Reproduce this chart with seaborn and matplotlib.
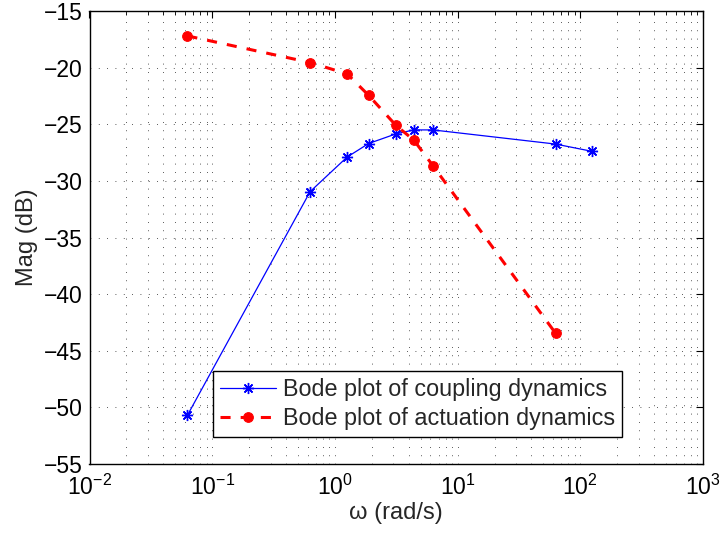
import numpy as np
import pandas as pd
import matplotlib
matplotlib.use("Agg")
import matplotlib.pyplot as plt
from matplotlib.ticker import LogLocator, MultipleLocator, NullFormatter
import seaborn as sns

# Frequency points (rad/s) and magnitudes (dB)
omega_coupling = [0.0628, 0.628, 1.257, 1.885, 3.142, 4.398, 6.283, 62.83, 125.7]
mag_coupling = [-50.7, -30.95, -27.9, -26.7, -25.85, -25.5, -25.5, -26.75, -27.4]

omega_actuation = [0.0628, 0.628, 1.257, 1.885, 3.142, 4.398, 6.283, 62.83]
mag_actuation = [-17.2, -19.55, -20.55, -22.45, -25.1, -26.4, -28.65, -43.45]

label_coupling = "Bode plot of coupling dynamics"
label_actuation = "Bode plot of actuation dynamics"

df_c = pd.DataFrame({"omega": omega_coupling, "mag": mag_coupling})
df_a = pd.DataFrame({"omega": omega_actuation, "mag": mag_actuation})

sns.set_style("white")
plt.rcParams["font.family"] = ["Liberation Sans", "DejaVu Sans"]
plt.rcParams["mathtext.fontset"] = "custom"
plt.rcParams["mathtext.rm"] = "Liberation Sans"
plt.rcParams["mathtext.it"] = "Liberation Sans"
plt.rcParams["font.size"] = 16

fig = plt.figure(figsize=(7.2, 5.33), dpi=100)
ax = fig.add_axes([89.5 / 720, (533 - 464) / 533, 613.5 / 720, 453 / 533])

sns.lineplot(data=df_c, x="omega", y="mag", ax=ax, color="#0000ff",
             linewidth=0.9, marker=(8, 2, 0), markersize=8,
             markeredgewidth=1.0, markeredgecolor="#0000ff",
             errorbar=None, label=label_coupling)
sns.lineplot(data=df_a, x="omega", y="mag", ax=ax, color="#ff0000",
             linewidth=2.2, linestyle=(0, (3.3, 3.3)), marker="o",
             markersize=7, markeredgecolor="#ff0000",
             errorbar=None, label=label_actuation)

ax.set_xscale("log")
ax.set_xlim(1e-2, 1e3)
ax.set_ylim(-55, -15)
ax.xaxis.set_major_locator(LogLocator(base=10, numticks=10))
ax.xaxis.set_minor_locator(LogLocator(base=10, subs=np.arange(2, 10), numticks=100))
ax.xaxis.set_minor_formatter(NullFormatter())
ax.yaxis.set_major_locator(MultipleLocator(5))

grid_style = dict(color="#222222", linestyle=(0, (1, 9)), linewidth=0.6)
ax.grid(True, which="major", axis="both", **grid_style)
ax.grid(True, which="minor", axis="x", **grid_style)

for sp in ax.spines.values():
    sp.set_visible(True)
    sp.set_color("black")
    sp.set_linewidth(1.0)

ax.tick_params(which="both", direction="in", top=True, right=True,
               colors="black", labelsize=16.5)
ax.tick_params(which="major", length=5, width=0.8)
ax.tick_params(which="minor", length=3, width=0.6)
ax.tick_params(axis="y", which="major", pad=5)
ax.tick_params(axis="x", which="major", pad=8)

ax.set_xlabel("ω (rad/s)", fontsize=17, labelpad=1)
ax.set_ylabel("Mag (dB)", fontsize=17, labelpad=4)

leg = ax.legend(loc="lower left", bbox_to_anchor=(0.201, 0.06),
                borderaxespad=0, fontsize=16.8, frameon=True, fancybox=False,
                handlelength=2.4, handletextpad=0.3, labelspacing=0.25,
                borderpad=0.3)
leg.get_frame().set_edgecolor("black")
leg.get_frame().set_linewidth(1.0)
leg.get_frame().set_alpha(1)

fig.savefig("out.png", dpi=100)
